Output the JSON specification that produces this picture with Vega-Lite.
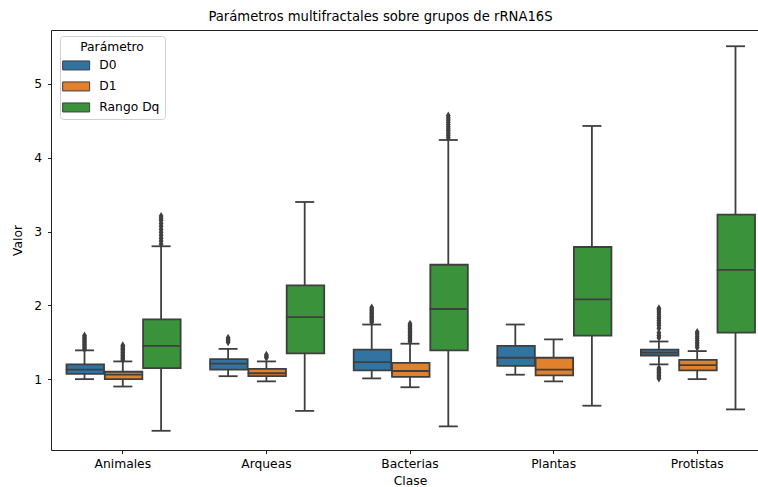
{
  "$schema": "https://vega.github.io/schema/vega-lite/v6.json",
  "width": 707,
  "height": 420,
  "autosize": {"type": "none"},
  "padding": {"left": 51, "top": 30, "right": 0, "bottom": 37},
  "background": "white",
  "config": {
    "font": "DejaVu Sans",
    "view": {"stroke": null},
    "axis": {"labelFont": "DejaVu Sans", "titleFont": "DejaVu Sans", "labelFontSize": 12.3, "titleFontSize": 12.3, "titleFontWeight": "normal", "labelColor": "#000", "titleColor": "#000", "domainColor": "#222", "tickColor": "#222", "tickSize": 3.5, "domainWidth": 1, "tickWidth": 1, "grid": false}
  },
  "title": {"text": "Parámetros multifractales sobre grupos de rRNA16S", "font": "DejaVu Sans", "fontSize": 13.2, "fontWeight": "normal", "color": "#000", "anchor": "middle", "frame": "group", "baseline": "bottom", "offset": 8, "dx": -24, "dy": 15},
  "resolve": {"axis": {"x": "independent"}},
  "datasets": {
    "boxes": [
      {"Clase": "Animales", "Parametro": "D0", "lower": 1.00, "q1": 1.07, "median": 1.13, "q3": 1.20, "upper": 1.39},
      {"Clase": "Animales", "Parametro": "D1", "lower": 0.90, "q1": 1.00, "median": 1.06, "q3": 1.10, "upper": 1.24},
      {"Clase": "Animales", "Parametro": "Rango Dq", "lower": 0.30, "q1": 1.15, "median": 1.45, "q3": 1.81, "upper": 2.80},
      {"Clase": "Arqueas", "Parametro": "D0", "lower": 1.04, "q1": 1.13, "median": 1.21, "q3": 1.27, "upper": 1.41},
      {"Clase": "Arqueas", "Parametro": "D1", "lower": 0.97, "q1": 1.04, "median": 1.08, "q3": 1.14, "upper": 1.24},
      {"Clase": "Arqueas", "Parametro": "Rango Dq", "lower": 0.57, "q1": 1.35, "median": 1.84, "q3": 2.27, "upper": 3.40},
      {"Clase": "Bacterias", "Parametro": "D0", "lower": 1.01, "q1": 1.12, "median": 1.23, "q3": 1.40, "upper": 1.74},
      {"Clase": "Bacterias", "Parametro": "D1", "lower": 0.89, "q1": 1.03, "median": 1.11, "q3": 1.22, "upper": 1.48},
      {"Clase": "Bacterias", "Parametro": "Rango Dq", "lower": 0.36, "q1": 1.39, "median": 1.95, "q3": 2.55, "upper": 4.24},
      {"Clase": "Plantas", "Parametro": "D0", "lower": 1.06, "q1": 1.18, "median": 1.29, "q3": 1.45, "upper": 1.74},
      {"Clase": "Plantas", "Parametro": "D1", "lower": 0.97, "q1": 1.05, "median": 1.13, "q3": 1.29, "upper": 1.54},
      {"Clase": "Plantas", "Parametro": "Rango Dq", "lower": 0.64, "q1": 1.59, "median": 2.08, "q3": 2.79, "upper": 4.43},
      {"Clase": "Protistas", "Parametro": "D0", "lower": 1.20, "q1": 1.32, "median": 1.36, "q3": 1.40, "upper": 1.51},
      {"Clase": "Protistas", "Parametro": "D1", "lower": 1.00, "q1": 1.12, "median": 1.19, "q3": 1.26, "upper": 1.38},
      {"Clase": "Protistas", "Parametro": "Rango Dq", "lower": 0.59, "q1": 1.63, "median": 2.48, "q3": 3.23, "upper": 5.51}
    ],
    "outliers": [
      {"Clase": "Animales", "Parametro": "D0", "Valor": 1.41}, {"Clase": "Animales", "Parametro": "D0", "Valor": 1.43}, {"Clase": "Animales", "Parametro": "D0", "Valor": 1.45}, {"Clase": "Animales", "Parametro": "D0", "Valor": 1.47}, {"Clase": "Animales", "Parametro": "D0", "Valor": 1.49}, {"Clase": "Animales", "Parametro": "D0", "Valor": 1.51}, {"Clase": "Animales", "Parametro": "D0", "Valor": 1.53}, {"Clase": "Animales", "Parametro": "D0", "Valor": 1.55}, {"Clase": "Animales", "Parametro": "D0", "Valor": 1.57}, {"Clase": "Animales", "Parametro": "D0", "Valor": 1.59},
      {"Clase": "Animales", "Parametro": "D1", "Valor": 1.26}, {"Clase": "Animales", "Parametro": "D1", "Valor": 1.28}, {"Clase": "Animales", "Parametro": "D1", "Valor": 1.30}, {"Clase": "Animales", "Parametro": "D1", "Valor": 1.32}, {"Clase": "Animales", "Parametro": "D1", "Valor": 1.34}, {"Clase": "Animales", "Parametro": "D1", "Valor": 1.36}, {"Clase": "Animales", "Parametro": "D1", "Valor": 1.38}, {"Clase": "Animales", "Parametro": "D1", "Valor": 1.40}, {"Clase": "Animales", "Parametro": "D1", "Valor": 1.42}, {"Clase": "Animales", "Parametro": "D1", "Valor": 1.44}, {"Clase": "Animales", "Parametro": "D1", "Valor": 1.46},
      {"Clase": "Animales", "Parametro": "Rango Dq", "Valor": 2.83}, {"Clase": "Animales", "Parametro": "Rango Dq", "Valor": 2.87}, {"Clase": "Animales", "Parametro": "Rango Dq", "Valor": 2.91}, {"Clase": "Animales", "Parametro": "Rango Dq", "Valor": 2.95}, {"Clase": "Animales", "Parametro": "Rango Dq", "Valor": 2.99}, {"Clase": "Animales", "Parametro": "Rango Dq", "Valor": 3.03}, {"Clase": "Animales", "Parametro": "Rango Dq", "Valor": 3.07}, {"Clase": "Animales", "Parametro": "Rango Dq", "Valor": 3.11}, {"Clase": "Animales", "Parametro": "Rango Dq", "Valor": 3.15}, {"Clase": "Animales", "Parametro": "Rango Dq", "Valor": 3.18}, {"Clase": "Animales", "Parametro": "Rango Dq", "Valor": 3.21},
      {"Clase": "Arqueas", "Parametro": "D0", "Valor": 1.50}, {"Clase": "Arqueas", "Parametro": "D0", "Valor": 1.52}, {"Clase": "Arqueas", "Parametro": "D0", "Valor": 1.54}, {"Clase": "Arqueas", "Parametro": "D0", "Valor": 1.56},
      {"Clase": "Arqueas", "Parametro": "D1", "Valor": 1.29}, {"Clase": "Arqueas", "Parametro": "D1", "Valor": 1.31}, {"Clase": "Arqueas", "Parametro": "D1", "Valor": 1.33},
      {"Clase": "Bacterias", "Parametro": "D0", "Valor": 1.77}, {"Clase": "Bacterias", "Parametro": "D0", "Valor": 1.79}, {"Clase": "Bacterias", "Parametro": "D0", "Valor": 1.81}, {"Clase": "Bacterias", "Parametro": "D0", "Valor": 1.83}, {"Clase": "Bacterias", "Parametro": "D0", "Valor": 1.85}, {"Clase": "Bacterias", "Parametro": "D0", "Valor": 1.87}, {"Clase": "Bacterias", "Parametro": "D0", "Valor": 1.89}, {"Clase": "Bacterias", "Parametro": "D0", "Valor": 1.91}, {"Clase": "Bacterias", "Parametro": "D0", "Valor": 1.93}, {"Clase": "Bacterias", "Parametro": "D0", "Valor": 1.95}, {"Clase": "Bacterias", "Parametro": "D0", "Valor": 1.97},
      {"Clase": "Bacterias", "Parametro": "D1", "Valor": 1.51}, {"Clase": "Bacterias", "Parametro": "D1", "Valor": 1.53}, {"Clase": "Bacterias", "Parametro": "D1", "Valor": 1.55}, {"Clase": "Bacterias", "Parametro": "D1", "Valor": 1.57}, {"Clase": "Bacterias", "Parametro": "D1", "Valor": 1.59}, {"Clase": "Bacterias", "Parametro": "D1", "Valor": 1.61}, {"Clase": "Bacterias", "Parametro": "D1", "Valor": 1.63}, {"Clase": "Bacterias", "Parametro": "D1", "Valor": 1.65}, {"Clase": "Bacterias", "Parametro": "D1", "Valor": 1.67}, {"Clase": "Bacterias", "Parametro": "D1", "Valor": 1.69}, {"Clase": "Bacterias", "Parametro": "D1", "Valor": 1.71}, {"Clase": "Bacterias", "Parametro": "D1", "Valor": 1.73}, {"Clase": "Bacterias", "Parametro": "D1", "Valor": 1.75},
      {"Clase": "Bacterias", "Parametro": "Rango Dq", "Valor": 4.27}, {"Clase": "Bacterias", "Parametro": "Rango Dq", "Valor": 4.30}, {"Clase": "Bacterias", "Parametro": "Rango Dq", "Valor": 4.33}, {"Clase": "Bacterias", "Parametro": "Rango Dq", "Valor": 4.36}, {"Clase": "Bacterias", "Parametro": "Rango Dq", "Valor": 4.39}, {"Clase": "Bacterias", "Parametro": "Rango Dq", "Valor": 4.42}, {"Clase": "Bacterias", "Parametro": "Rango Dq", "Valor": 4.45}, {"Clase": "Bacterias", "Parametro": "Rango Dq", "Valor": 4.48}, {"Clase": "Bacterias", "Parametro": "Rango Dq", "Valor": 4.51}, {"Clase": "Bacterias", "Parametro": "Rango Dq", "Valor": 4.54}, {"Clase": "Bacterias", "Parametro": "Rango Dq", "Valor": 4.57},
      {"Clase": "Protistas", "Parametro": "D0", "Valor": 1.56}, {"Clase": "Protistas", "Parametro": "D0", "Valor": 1.59}, {"Clase": "Protistas", "Parametro": "D0", "Valor": 1.63}, {"Clase": "Protistas", "Parametro": "D0", "Valor": 1.69}, {"Clase": "Protistas", "Parametro": "D0", "Valor": 1.73}, {"Clase": "Protistas", "Parametro": "D0", "Valor": 1.76}, {"Clase": "Protistas", "Parametro": "D0", "Valor": 1.79}, {"Clase": "Protistas", "Parametro": "D0", "Valor": 1.82}, {"Clase": "Protistas", "Parametro": "D0", "Valor": 1.85}, {"Clase": "Protistas", "Parametro": "D0", "Valor": 1.88}, {"Clase": "Protistas", "Parametro": "D0", "Valor": 1.91}, {"Clase": "Protistas", "Parametro": "D0", "Valor": 1.94}, {"Clase": "Protistas", "Parametro": "D0", "Valor": 1.96},
      {"Clase": "Protistas", "Parametro": "D0", "Valor": 1.15}, {"Clase": "Protistas", "Parametro": "D0", "Valor": 1.13}, {"Clase": "Protistas", "Parametro": "D0", "Valor": 1.11}, {"Clase": "Protistas", "Parametro": "D0", "Valor": 1.09}, {"Clase": "Protistas", "Parametro": "D0", "Valor": 1.07}, {"Clase": "Protistas", "Parametro": "D0", "Valor": 1.05}, {"Clase": "Protistas", "Parametro": "D0", "Valor": 1.03}, {"Clase": "Protistas", "Parametro": "D0", "Valor": 1.01},
      {"Clase": "Protistas", "Parametro": "D1", "Valor": 1.43}, {"Clase": "Protistas", "Parametro": "D1", "Valor": 1.46}, {"Clase": "Protistas", "Parametro": "D1", "Valor": 1.49}, {"Clase": "Protistas", "Parametro": "D1", "Valor": 1.52}, {"Clase": "Protistas", "Parametro": "D1", "Valor": 1.55}, {"Clase": "Protistas", "Parametro": "D1", "Valor": 1.58}, {"Clase": "Protistas", "Parametro": "D1", "Valor": 1.61}, {"Clase": "Protistas", "Parametro": "D1", "Valor": 1.64}
    ]
  },
  "encoding": {
    "x": {"field": "Clase", "type": "nominal", "sort": ["Animales", "Arqueas", "Bacterias", "Plantas", "Protistas"],
      "scale": {"type": "band", "domain": ["Animales", "Arqueas", "Bacterias", "Plantas", "Protistas"], "range": [0, 718], "paddingInner": 0.2, "paddingOuter": 0.1},
      "axis": null},
    "xOffset": {"field": "Parametro", "type": "nominal", "scale": {"domain": ["D0", "D1", "Rango Dq"], "paddingInner": 0, "paddingOuter": 0}}
  },
  "layer": [
    {
      "data": {"name": "boxes"},
      "mark": {"type": "rule", "color": "#3f3f3f", "strokeWidth": 1.8},
      "encoding": {
        "x": {"field": "Clase", "type": "nominal", "sort": ["Animales", "Arqueas", "Bacterias", "Plantas", "Protistas"],
          "axis": {"orient": "bottom", "title": "Clase", "labelAngle": 0, "labelPadding": 4, "titlePadding": 5}},
        "y": {"field": "lower", "type": "quantitative", "scale": {"domain": [0.04, 5.73], "nice": false, "zero": false},
          "axis": {"title": "Valor", "values": [1, 2, 3, 4, 5], "format": "d", "labelPadding": 6, "titlePadding": 9}},
        "y2": {"field": "upper"}
      }
    },
    {
      "data": {"name": "boxes"},
      "mark": {"type": "bar", "stroke": "#3f3f3f", "strokeWidth": 1.8, "width": {"band": 0.98}, "opacity": 1},
      "encoding": {
        "y": {"field": "q1", "type": "quantitative"},
        "y2": {"field": "q3"},
        "color": {"field": "Parametro", "type": "nominal",
          "scale": {"domain": ["D0", "D1", "Rango Dq"], "range": ["#3274a1", "#e1812c", "#3a923a"]},
          "legend": {"title": "Parámetro", "orient": "none", "legendX": 9, "legendY": 6,
            "titleFont": "DejaVu Sans", "titleFontSize": 12.3, "titleFontWeight": "normal", "titleColor": "#000", "titleAnchor": "middle", "titlePadding": 6,
            "labelFont": "DejaVu Sans", "labelFontSize": 12.3, "labelColor": "#000", "labelOffset": 17,
            "symbolType": "M-3.0,-1H3.0V1H-3.0Z", "symbolSize": 81, "symbolStrokeColor": "#3f3f3f", "symbolStrokeWidth": 1, "symbolOffset": 5, "symbolOpacity": 1,
            "rowPadding": 7, "padding": 5, "strokeColor": "#d0d0d0", "fillColor": "white", "cornerRadius": 3}}
      }
    },
    {
      "data": {"name": "boxes"},
      "mark": {"type": "tick", "color": "#3f3f3f", "size": 37.5, "thickness": 1.8, "opacity": 1},
      "encoding": {"y": {"field": "median", "type": "quantitative"}}
    },
    {
      "data": {"name": "boxes"},
      "mark": {"type": "tick", "color": "#3f3f3f", "size": 19, "thickness": 1.8, "opacity": 1},
      "encoding": {"y": {"field": "lower", "type": "quantitative"}}
    },
    {
      "data": {"name": "boxes"},
      "mark": {"type": "tick", "color": "#3f3f3f", "size": 19, "thickness": 1.8, "opacity": 1},
      "encoding": {
        "y": {"field": "upper", "type": "quantitative"},
        "x": {"field": "Clase", "type": "nominal", "sort": ["Animales", "Arqueas", "Bacterias", "Plantas", "Protistas"],
          "axis": {"orient": "top", "labels": false, "ticks": false, "title": null, "domainColor": "#222"}}
      }
    },
    {
      "data": {"name": "outliers"},
      "mark": {"type": "point", "shape": "M0,-1L0.6,0L0,1L-0.6,0Z", "filled": true, "color": "#3f3f3f", "size": 64, "opacity": 1},
      "encoding": {"y": {"field": "Valor", "type": "quantitative"}}
    }
  ]
}
